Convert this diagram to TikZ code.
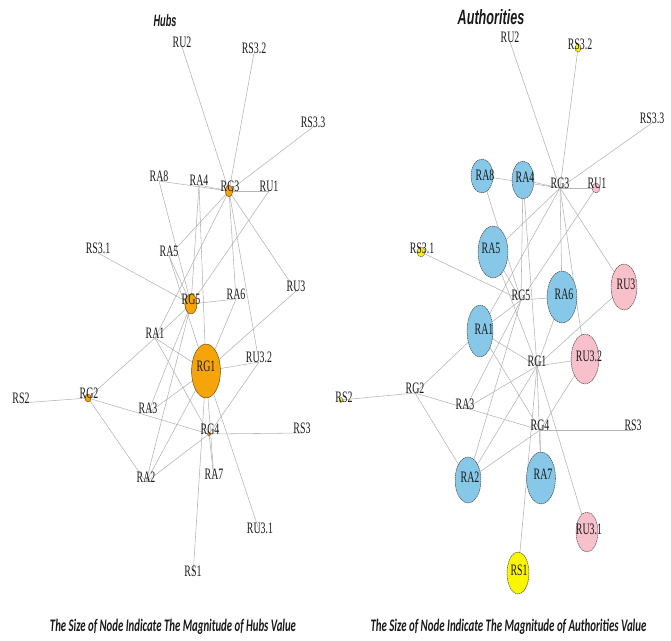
\documentclass[tikz,border=0pt]{standalone}
\usepackage{fontspec}
\usepackage{graphicx}
\usetikzlibrary{shapes.geometric}
\newfontfamily\lblfont{Liberation Serif}
\newfontfamily\ttlfont{Liberation Sans}
\newfontfamily\capfont{Carlito}
\definecolor{edgegray}{RGB}{180,180,180}
\definecolor{hubfill}{RGB}{245,165,10}
\definecolor{hubline}{RGB}{110,70,10}
\definecolor{authblue}{RGB}{135,200,232}
\definecolor{authpink}{RGB}{248,192,202}
\definecolor{authyellow}{RGB}{250,245,0}
\definecolor{ink}{RGB}{25,25,25}
% horizontally condensed label text
\newcommand\hs[1]{\scalebox{0.62}[1]{#1}}
\tikzset{
  edge/.style={draw=edgegray, line width=0.6pt},
  vlabel/.style={inner sep=0pt, text=ink, font=\lblfont\fontsize{17}{17}\selectfont},
  vdot/.style n args={2}{ellipse, inner sep=0pt, line width=0.5pt,
    minimum width={2.126pt*#1}, minimum height={2.126pt*#2}},
  hubdot/.style={draw=hubline, fill=hubfill},
  authdot/.style={draw=black!75, dash pattern=on 1.6pt off 0.7pt},
  ttl/.style={inner sep=0pt, text=ink},
}
\begin{document}
\begin{tikzpicture}[x=0.0375cm, y=-0.0375cm]
\path[use as bounding box] (0,0) rectangle (671,640);

% ---------------- hubs graph (left) ----------------
\foreach \n/\x/\y in {ru2/182/47, rs32/254/53, rs33/313/127, ra8/159/181,
  ra4/199/185, g3/229/191, ru1/269/191, rs31/98/253, ra5/169/256, g5/191/304,
  ra6/236/299, ru3/296/291, ra1/155/338, g1/206/371, ru32/259/362, g2/88/398,
  rs2/21/403, ra3/148/413, g4/209/434, rs3/302/433, ra2/146/482, ra7/214/479,
  ru31/260/533, rs1/193/576}
  \coordinate (L\n) at (\x,\y);

% ---------------- authorities graph (right) ----------------
\foreach \n/\x/\y in {ru2/510/42, rs32/578/48, rs33/652/123, ra8/482/176,
  ra4/523/180, g3/560/188, ru1/596/188, rs31/421/252, ra5/493/252, g5/521/300,
  ra6/562/297, ru3/624/287, ra1/480/331, g1/537/366, ru32/585/359, g2/415/393,
  rs2/341/400, ra3/465/409, g4/540/430, rs3/633/430, ra2/468/480, ra7/541/478,
  ru31/587/532, rs1/518/573}
  \coordinate (R\n) at (\x,\y);

% links (same network drawn twice)
\foreach \p in {L,R}{
  \foreach \a/\b in {g3/ru2, g3/rs32, g3/rs33, g3/ru1, g3/ra4, g3/ra8, g3/ra5,
    g3/ra6, g3/ru3, g3/ru32, g3/ra1,
    g5/rs31, g5/ra6, g5/ra8, g5/ra5, g5/ru1, g5/ra1, g5/ra3, g5/ra2, g5/ra4,
    g1/ra1, g1/ra3, g1/ru32, g1/ru3, g1/ra6, g1/ra2, g1/ra7, g1/rs1, g1/ru31,
    g1/ra4, g1/ra5,
    g2/rs2, g2/ra1, g2/ra2, g2/g4,
    g4/rs3, g4/ra2, g4/ru32, g4/ra1, g4/ra7}
    \draw[edge] (\p\a) -- (\p\b);
}

% hub markers
\node[vdot={14.5}{27}, hubdot] (Lg1-m) at (Lg1) {};
\node[vdot={6}{10}, hubdot] (Lg5-m) at (Lg5) {};
\node[vdot={3.5}{6}, hubdot] (Lg3-m) at (Lg3) {};
\node[vdot={3}{4}, hubdot] (Lg2-m) at (Lg2) {};
\node[vdot={1.5}{2}, hubdot] (Lg4-m) at (Lg4) {};

% authority markers
\node[vdot={11}{17}, authdot, fill=authblue] (Rra8-m) at (Rra8) {};
\node[vdot={11}{19}, authdot, fill=authblue] (Rra4-m) at (Rra4) {};
\node[vdot={15}{26}, authdot, fill=authblue] (Rra5-m) at (Rra5) {};
\node[vdot={15}{26}, authdot, fill=authblue] (Rra6-m) at (Rra6) {};
\node[vdot={13}{26}, authdot, fill=authblue] (Rra1-m) at (Rra1) {};
\node[vdot={13}{23}, authdot, fill=authblue] (Rra2-m) at (Rra2) {};
\node[vdot={14.5}{26}, authdot, fill=authblue] (Rra7-m) at (Rra7) {};
\node[vdot={13}{23}, authdot, fill=authpink] (Rru3-m) at (Rru3) {};
\node[vdot={14}{25}, authdot, fill=authpink] (Rru32-m) at (Rru32) {};
\node[vdot={11}{20}, authdot, fill=authpink] (Rru31-m) at (Rru31) {};
\node[vdot={4}{5}, authdot, fill=authpink] (Rru1-m) at (Rru1) {};
\node[vdot={11}{21}, authdot, fill=authyellow] (Rrs1-m) at (Rrs1) {};
\node[vdot={3}{4}, authdot, fill=authyellow] (Rrs32-m) at (Rrs32) {};
\node[vdot={4}{5}, authdot, fill=authyellow] (Rrs31-m) at (Rrs31) {};
\node[vdot={2}{2.5}, authdot, fill=authyellow] (Rrs2-m) at (Rrs2) {};

% vertex names, left
\foreach \n/\t/\x/\y in {ru2/RU2/182/42, rs32/RS3.2/254/48, rs33/RS3.3/313/122,
  ra8/RA8/159/176, ra4/RA4/199/180, g3/RG3/230/186, ru1/RU1/269/186,
  rs31/RS3.1/98/248, ra5/RA5/169/251, g5/RG5/191/299, ra6/RA6/236/294,
  ru3/RU3/296/286, ra1/RA1/155/333, g1/RG1/206/366, ru32/RU3.2/259/357,
  g2/RG2/89/393, rs2/RS2/21/398, ra3/RA3/148/408, g4/RG4/210/429,
  rs3/RS3/302/428, ra2/RA2/146/477, ra7/RA7/214/474, ru31/RU3.1/260/528,
  rs1/RS1/193/571}
  \node[vlabel] (L\n-t) at (\x,\y) {\hs{\t}};

% vertex names, right
\foreach \n/\t/\x/\y in {ru2/RU2/510/37, rs32/RS3.2/580/44, rs33/RS3.3/652/118,
  ra8/RA8/485/175, ra4/RA4/525/177, g3/RG3/560/183, ru1/RU1/597/183,
  rs31/RS3.1/422/248, ra5/RA5/491/248, g5/RG5/521/295, ra6/RA6/564/294,
  ru3/RU3/626/284, ra1/RA1/484/329, g1/RG1/537/361, ru32/RU3.2/589/356,
  g2/RG2/415/388, rs2/RS2/344/397, ra3/RA3/465/404, g4/RG4/540/425,
  rs3/RS3/633/425, ra2/RA2/470/477, ra7/RA7/543/474, ru31/RU3.1/589/529,
  rs1/RS1/519/570}
  \node[vlabel] (R\n-t) at (\x,\y) {\hs{\t}};

% titles and captions
\node[ttl] (hubs-title) at (165,21)
  {\resizebox{24.5pt}{12.8pt}{\ttlfont\bfseries\itshape Hubs}};
\node[ttl] (auth-title) at (491,17.5)
  {\resizebox{71pt}{16pt}{\ttlfont\bfseries\itshape Authorities}};
\node[ttl] (hubs-caption) at (173,626.6)
  {\resizebox{262.6pt}{13.2pt}{\capfont\bfseries\itshape The Size of Node Indicate The Magnitude of Hubs Value}};
\node[ttl] (auth-caption) at (508.5,626.6)
  {\resizebox{294.5pt}{13.2pt}{\capfont\bfseries\itshape The Size of Node Indicate The Magnitude of Authorities Value}};
\end{tikzpicture}
\end{document}
